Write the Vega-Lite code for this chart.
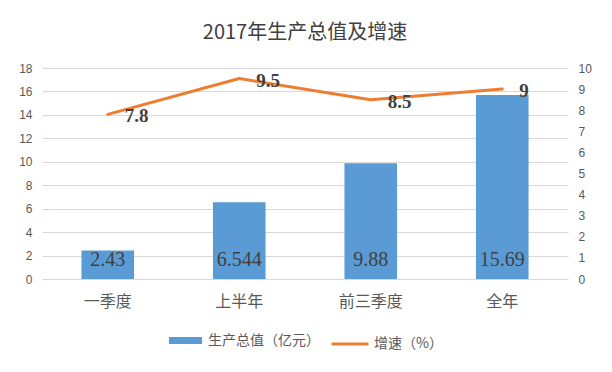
{
  "$schema": "https://vega.github.io/schema/vega-lite/v6.json",
  "width": 526,
  "height": 211,
  "autosize": {"type": "none"},
  "padding": {"left": 42, "top": 68, "right": 44, "bottom": 93},
  "background": "white",
  "title": {
    "text": "2017年生产总值及增速",
    "font": "Noto Sans CJK SC",
    "fontSize": 20,
    "fontWeight": "normal",
    "color": "#404040",
    "anchor": "middle",
    "offset": 19
  },
  "data": {
    "values": [
      {"period": "一季度", "gdp": 2.43, "growth": 7.8},
      {"period": "上半年", "gdp": 6.544, "growth": 9.5},
      {"period": "前三季度", "gdp": 9.88, "growth": 8.5},
      {"period": "全年", "gdp": 15.69, "growth": 9}
    ]
  },
  "encoding": {
    "x": {
      "field": "period",
      "type": "nominal",
      "sort": null,
      "scale": {"paddingInner": 0.6, "paddingOuter": 0.3},
      "axis": {
        "title": null,
        "labelAngle": 0,
        "domain": false,
        "ticks": false,
        "labelFont": "Noto Sans CJK SC",
        "labelFontSize": 16,
        "labelColor": "#595959",
        "labelPadding": 14
      }
    }
  },
  "layer": [
    {
      "encoding": {
        "y": {
          "field": "gdp",
          "type": "quantitative",
          "scale": {"domain": [0, 18], "nice": false},
          "axis": {
            "title": null,
            "values": [0, 2, 4, 6, 8, 10, 12, 14, 16, 18],
            "domain": false,
            "ticks": false,
            "gridColor": "#D9D9D9",
            "gridWidth": 1,
            "labelFont": "Liberation Sans",
            "labelFontSize": 12,
            "labelColor": "#595959",
            "labelPadding": 10
          }
        }
      },
      "layer": [
        {
          "mark": {"type": "bar", "color": "#5B9BD5"},
          "encoding": {
            "fill": {
              "datum": "生产总值（亿元）",
              "scale": {"range": ["#5B9BD5"]},
              "legend": {
                "title": null,
                "orient": "none",
                "legendX": 127,
                "legendY": 256,
                "symbolType": "M-1,-0.21L1,-0.21L1,0.21L-1,0.21Z",
                "symbolSize": 1089,
                "symbolStrokeWidth": 0,
                "labelFont": "Noto Sans CJK SC",
                "labelFontSize": 14,
                "labelColor": "#595959",
                "labelOffset": 6
              }
            }
          }
        },
        {
          "mark": {
            "type": "text",
            "font": "Liberation Serif",
            "fontSize": 20,
            "color": "#404040",
            "baseline": "middle",
            "dy": -19
          },
          "encoding": {
            "y": {"datum": 0, "type": "quantitative"},
            "text": {"field": "gdp", "type": "nominal"}
          }
        }
      ]
    },
    {
      "encoding": {
        "y": {
          "field": "growth",
          "type": "quantitative",
          "scale": {"domain": [0, 10], "nice": false},
          "axis": {
            "title": null,
            "orient": "right",
            "values": [0, 1, 2, 3, 4, 5, 6, 7, 8, 9, 10],
            "grid": false,
            "domain": false,
            "ticks": false,
            "labelFont": "Liberation Sans",
            "labelFontSize": 12,
            "labelColor": "#595959",
            "labelPadding": 10
          }
        }
      },
      "layer": [
        {
          "mark": {"type": "line", "strokeWidth": 3, "strokeCap": "round", "strokeJoin": "round"},
          "encoding": {
            "stroke": {
              "datum": "增速（%）",
              "scale": {"range": ["#ED7D31"]},
              "legend": {
                "title": null,
                "orient": "none",
                "legendX": 288,
                "legendY": 256,
                "symbolType": "stroke",
                "symbolSize": 1369,
                "symbolStrokeWidth": 3,
                "labelFont": "Noto Sans CJK SC",
                "labelFontSize": 14,
                "labelColor": "#595959",
                "labelOffset": 4
              }
            }
          }
        },
        {
          "mark": {
            "type": "text",
            "font": "Liberation Serif",
            "fontSize": 19,
            "fontWeight": "bold",
            "color": "#404040",
            "align": "left",
            "baseline": "middle",
            "dx": 17,
            "dy": 2
          },
          "encoding": {
            "text": {"field": "growth", "type": "nominal"}
          }
        }
      ]
    }
  ],
  "resolve": {"scale": {"y": "independent", "fill": "independent", "stroke": "independent"}},
  "config": {
    "view": {"stroke": null},
    "axis": {"labelFontWeight": "normal"}
  }
}
